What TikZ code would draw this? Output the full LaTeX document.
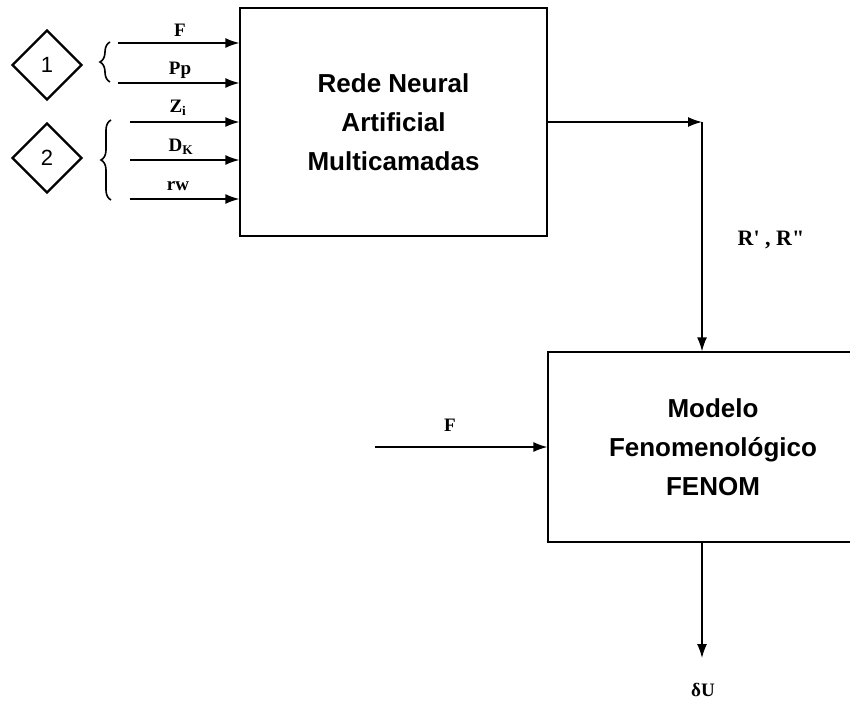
\documentclass[tikz,border=0pt]{standalone}
\usepackage{fontspec}
\setmainfont{Liberation Serif}
\setsansfont{Liberation Sans}
\usetikzlibrary{arrows.meta,shapes.geometric,decorations.pathreplacing}

\tikzset{
  blockbox/.style={draw, line width=1.3pt, inner sep=0pt, align=center,
    font=\sffamily\bfseries\fontsize{26}{30}\selectfont},
  tagbox/.style={draw, diamond, line width=2.2pt, inner sep=0pt,
    minimum width=70pt, minimum height=70pt,
    font=\sffamily\fontsize{22}{26}\selectfont},
  varlabel/.style={font=\bfseries\fontsize{19}{22}\selectfont, inner sep=0pt},
  feed/.style={line width=1.4pt, -{Latex[length=14pt,width=10pt]}},
  curly/.style={line width=1.6pt, decorate, decoration={brace, amplitude=10pt}}
}

\begin{document}
\begin{tikzpicture}[x=1pt, y=-1pt]
 \useasboundingbox (0,0) rectangle (850,706);
 % blocos
 \node[blockbox, minimum width=307pt, minimum height=228pt] (rna) at (393.5,122)
   {Rede Neural\\[9pt] Artificial\\[9pt] Multicamadas};
 \node[blockbox, minimum width=330pt, minimum height=190pt] (fenom) at (713,447)
   {Modelo\\[9pt] Fenomenológico\\[9pt] FENOM};
 % grupos de entrada
 \node[tagbox] (g1) at (47,65) {1};
 \node[tagbox] (g2) at (47,158) {2};
 \draw[curly] (110,82) -- (110,42);
 \draw[curly] (111,200) -- (111,120);
 % pontos de partida
 \coordinate (inF) at (118,43);
 \coordinate (inPp) at (118,83);
 \coordinate (inZ) at (130,122);
 \coordinate (inD) at (130,160);
 \coordinate (inR) at (130,199);
 \coordinate (turn) at (702,122);
 \coordinate (fsrc) at (375,447);
 \coordinate (dtip) at (702,658);
 \path [feed] (inF) edge (rna.west |- inF);
 \path [feed] (inPp) edge (rna.west |- inPp);
 \path [feed] (inZ) edge (rna.west |- inZ);
 \path [feed] (inD) edge (rna.west |- inD);
 \path [feed] (inR) edge (rna.west |- inR);
 \node[varlabel] (lF) at (180,30) {F};
 \node[varlabel] (lPp) at (180,70) {Pp};
 \node[varlabel] (lZ) at (178,108) {Z$_\mathbf{i}$};
 \node[varlabel] (lD) at (181,147) {D$_\mathbf{K}$};
 \node[varlabel] (lR) at (178,186) {rw};
 % saidas
 \path [feed] (rna.east |- turn) edge (turn);
 \path [feed] (turn) edge (turn |- fenom.north);
 \node[varlabel, font=\bfseries\fontsize{22}{25}\selectfont] (rr) at (771,240)
   {R\textquotesingle\ , R\textquotedbl};
 \path [feed] (fsrc) edge (fenom.west);
 \node[varlabel] (lF2) at (450,425) {F};
 \path [feed] (turn |- fenom.south) edge (dtip);
 \node[varlabel] (du) at (703,690) {δU};
\end{tikzpicture}
\end{document}
